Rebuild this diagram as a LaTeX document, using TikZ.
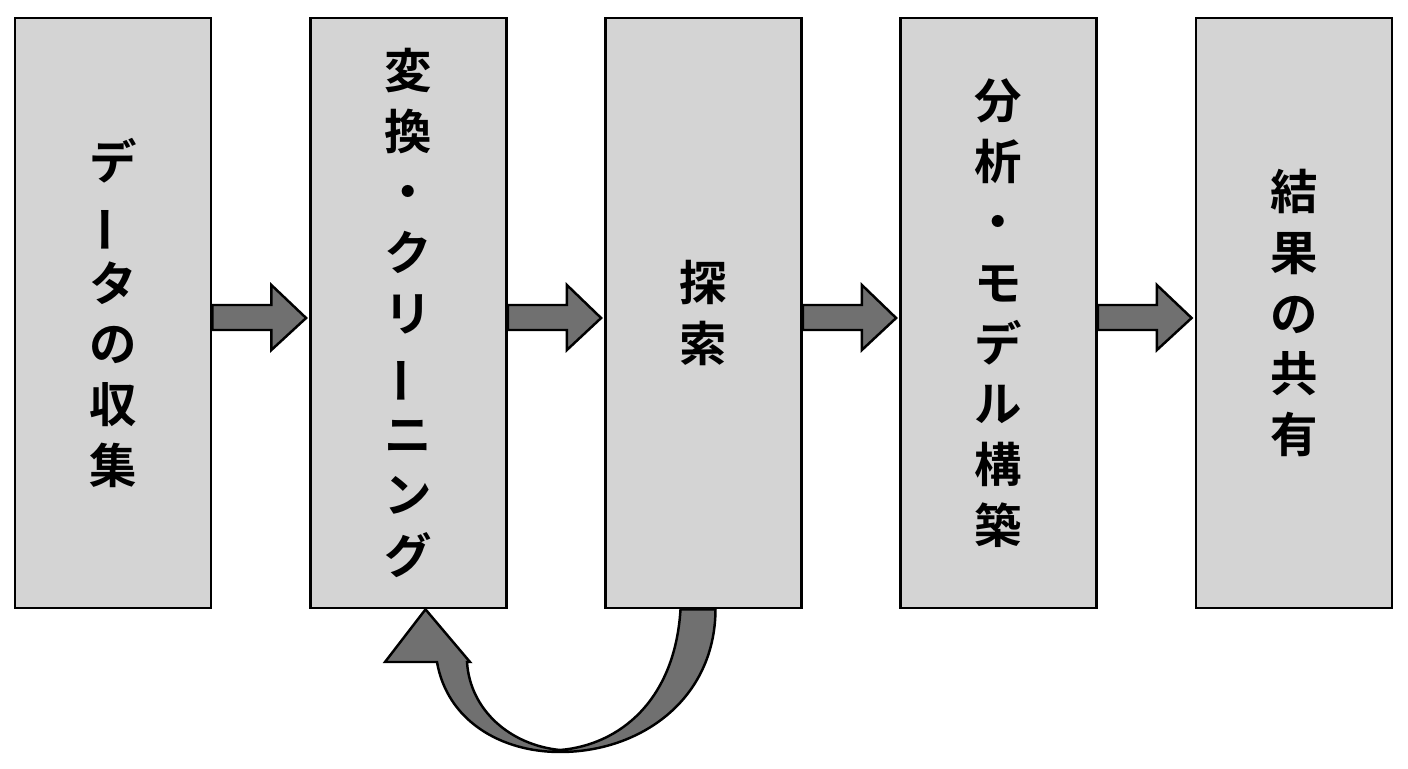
\documentclass[tikz,border=0pt]{standalone}
\usepackage{fontspec}
\usepackage{graphicx}
\newfontfamily\jp{Noto Sans CJK JP}[BoldFont={Noto Sans CJK JP Bold}]
\usetikzlibrary{calc}
\newcommand{\vbar}{\rotatebox[origin=c]{90}{ー}}
\begin{document}
\begin{tikzpicture}[x=0.02cm,y=-0.02cm,
  box/.style={draw=black,line width=1.6pt,fill=boxgray,minimum width=3.92cm,minimum height=11.8cm,inner sep=0pt,
    font=\jp\bfseries\fontsize{27}{34.5}\selectfont,align=center},
  blk/.style={draw=black,line width=1.4pt,fill=arrgray,line join=miter}]
\definecolor{boxgray}{HTML}{D4D4D4}
\definecolor{arrgray}{HTML}{707070}
\useasboundingbox (0,0) rectangle (1408,768);
\node[box] (a) at (113,313) {デ\\\vbar\\タ\\の\\収\\集};
\node[box] (b) at (408.5,313) {変\\換\\・\\ク\\リ\\\vbar\\ニ\\ン\\グ};
\node[box] (c) at (703.5,313) {探\\索};
\node[box] (d) at (998.5,313) {分\\析\\・\\モ\\デ\\ル\\構\\築};
\node[box] (e) at (1294,313) {結\\果\\の\\共\\有};
\foreach \p/\q in {a/b,b/c,c/d,d/e}{
  \draw[blk] ($(\p.east)+(0,-8)$) -- ($(\p.east)+(59,-8)$) -- ($(\p.east)+(59,-28)$) -- ($(\q.west)+(-3,5)$)
    -- ($(\p.east)+(59,37)$) -- ($(\p.east)+(59,17)$) -- ($(\p.east)+(0,17)$) -- cycle;
}
\draw[blk] ($(c.south)+(-23,0)$) .. controls (675,700) and (620,745) .. (560,750)
  .. controls (510,745) and (470,710) .. (467,662) -- (470,662) -- ($(b.south)+(17,0)$) -- (385,662) -- (437,662)
  .. controls (447,720) and (500,752) .. (560,752) .. controls (640,752) and (715,700) .. ($(c.south)+(12,0)$) -- cycle;
\end{tikzpicture}
\end{document}
